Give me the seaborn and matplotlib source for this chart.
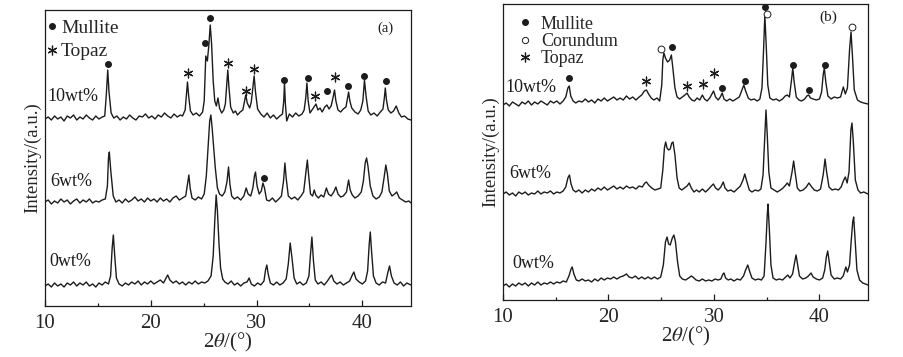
import numpy as np
import pandas as pd
import matplotlib
matplotlib.use("Agg")
import matplotlib.pyplot as plt
from matplotlib.lines import Line2D
import seaborn as sns

# ---------------- data (2theta, intensity a.u.) ----------------
a_10wt = [(10.0,187),(10.3,189),(10.6,186),(10.9,190),(11.2,187),(11.5,189),(11.8,185),(12.1,190),(12.4,188),(12.7,191),
 (13.0,186),(13.3,189),(13.6,187),(13.9,191),(14.2,188),(14.5,186),(14.8,190),(15.1,187),(15.4,189),(15.65,190),
 (15.8,212),(15.93,236),(16.05,214),(16.25,193),(16.5,188),(16.8,190),(17.1,186),(17.4,189),(17.7,187),(18.0,191),
 (18.3,188),(18.6,186),(18.9,190),(19.2,189),(19.5,192),(19.8,188),(20.1,190),(20.4,187),(20.7,191),(21.0,189),
 (21.3,193),(21.6,190),(21.9,188),(22.2,192),(22.5,189),(22.8,191),(23.0,190),(23.25,196),(23.38,212),(23.47,224),
 (23.58,210),(23.75,195),(24.0,191),(24.3,193),(24.6,190),(24.9,194),(25.05,205),(25.2,250),(25.35,245),(25.5,262),
 (25.62,281),(25.75,262),(25.9,225),(26.05,205),(26.2,200),(26.35,208),(26.5,198),(26.7,193),(26.9,196),(27.05,202),
 (27.18,222),(27.28,236),(27.38,220),(27.55,199),(27.8,193),(28.0,195),(28.2,191),(28.45,194),(28.7,196),(28.85,204),
 (28.98,211),(29.12,203),(29.35,198),(29.5,204),(29.65,218),(29.77,230),(29.9,214),(30.1,197),(30.4,192),(30.7,189),
 (31.0,193),(31.3,188),(31.6,191),(31.9,187),(32.2,190),(32.45,192),(32.57,205),(32.64,223),(32.72,203),(32.85,185),
 (33.1,192),(33.4,189),(33.7,193),(34.0,190),(34.3,192),(34.5,196),(34.65,208),(34.76,223),(34.88,205),(35.05,193),
 (35.3,197),(35.48,200),(35.62,202),(35.8,196),(36.0,198),(36.2,194),(36.45,199),(36.65,201),(36.85,197),(37.05,200),
 (37.22,208),(37.37,216),(37.5,205),(37.7,196),(37.95,194),(38.2,197),(38.45,199),(38.6,208),(38.7,214),(38.82,205),
 (39.0,198),(39.3,194),(39.6,192),(39.85,196),(40.05,205),(40.2,226),(40.35,210),(40.55,195),(40.8,191),(41.1,193),
 (41.4,190),(41.7,194),(41.95,197),(42.08,208),(42.17,218),(42.28,206),(42.45,196),(42.7,193),(42.95,195),(43.2,200),
 (43.45,193),(43.7,189),(44.0,190),(44.3,187),(44.6,186)]

a_6wt = [(10.0,104),(10.3,106),(10.6,102),(10.9,105),(11.2,103),(11.5,107),(11.8,104),(12.1,106),(12.4,102),(12.7,105),
 (13.0,107),(13.3,103),(13.6,106),(13.9,104),(14.2,107),(14.5,103),(14.8,105),(15.1,104),(15.4,106),(15.7,107),
 (15.9,120),(16.0,148),(16.08,154),(16.22,135),(16.45,110),(16.7,104),(17.0,106),(17.3,103),(17.6,107),(17.9,104),
 (18.2,106),(18.5,109),(18.8,105),(19.1,107),(19.4,104),(19.7,108),(20.0,105),(20.3,107),(20.6,104),(20.9,108),
 (21.2,105),(21.5,107),(21.8,104),(22.1,108),(22.4,110),(22.7,106),(23.0,108),(23.3,110),(23.47,122),(23.6,131),
 (23.72,118),(23.9,108),(24.2,106),(24.5,109),(24.8,107),(25.05,112),(25.25,130),(25.42,160),(25.57,185),(25.68,191),
 (25.8,178),(25.95,158),(26.1,138),(26.3,118),(26.5,112),(26.75,110),(27.0,114),(27.2,124),(27.35,139),(27.48,122),
 (27.65,110),(27.9,107),(28.2,109),(28.5,106),(28.8,110),(29.02,118),(29.2,112),(29.45,110),(29.65,118),(29.8,130),
 (29.9,134),(30.05,120),(30.25,112),(30.45,115),(30.6,123),(30.75,118),(30.95,106),(31.2,105),(31.5,108),(31.8,104),
 (32.1,107),(32.35,110),(32.55,125),(32.68,143),(32.8,128),(33.0,110),(33.3,107),(33.6,109),(33.9,106),(34.2,110),
 (34.45,114),(34.68,135),(34.8,146),(34.93,130),(35.1,112),(35.3,110),(35.45,116),(35.6,111),(35.85,108),(36.1,111),
 (36.35,109),(36.6,118),(36.8,112),(37.05,110),(37.3,114),(37.5,119),(37.7,112),(37.95,109),(38.2,110),(38.5,114),
 (38.7,126),(38.85,116),(39.05,111),(39.3,108),(39.6,110),(39.9,114),(40.1,125),(40.27,143),(40.4,148),(40.53,140),
 (40.75,120),(41.0,110),(41.3,107),(41.6,109),(41.85,114),(42.05,128),(42.22,141),(42.37,132),(42.55,115),(42.8,110),
 (43.05,112),(43.25,114),(43.5,108),(43.8,106),(44.1,104),(44.4,105),(44.6,103)]

a_0wt = [(10.0,20),(10.3,22),(10.6,19),(10.9,23),(11.2,20),(11.5,22),(11.8,19),(12.1,23),(12.4,21),(12.7,24),
 (13.0,20),(13.3,23),(13.6,21),(13.9,24),(14.2,20),(14.5,22),(14.8,19),(15.1,23),(15.4,21),(15.7,24),
 (16.0,22),(16.2,30),(16.35,58),(16.46,71),(16.58,52),(16.75,28),(17.0,22),(17.3,20),(17.6,23),(17.9,21),
 (18.2,24),(18.5,22),(18.8,25),(19.1,21),(19.4,24),(19.7,22),(20.0,25),(20.3,22),(20.6,24),(20.9,26),
 (21.2,23),(21.45,28),(21.6,31),(21.8,26),(22.1,23),(22.4,25),(22.7,22),(23.0,24),(23.3,21),(23.6,24),
 (23.9,22),(24.2,25),(24.5,22),(24.8,24),(25.1,23),(25.4,25),(25.7,30),(25.9,50),(26.05,85),(26.18,111),
 (26.3,95),(26.45,62),(26.6,38),(26.8,27),(27.0,24),(27.3,22),(27.6,25),(27.9,21),(28.2,23),(28.5,20),
 (28.8,23),(29.1,24),(29.3,28),(29.5,22),(29.8,20),(30.1,23),(30.4,21),(30.7,25),(30.85,36),(30.97,41),
 (31.1,32),(31.3,23),(31.6,21),(31.9,24),(32.2,21),(32.5,23),(32.8,27),(33.0,42),(33.18,63),(33.35,48),
 (33.55,28),(33.8,22),(34.1,24),(34.4,21),(34.7,23),(34.95,30),(35.1,52),(35.23,69),(35.38,45),(35.55,26),
 (35.8,22),(36.1,24),(36.4,21),(36.7,25),(36.95,29),(37.1,31),(37.3,25),(37.6,22),(37.9,24),(38.2,21),
 (38.5,23),(38.8,25),(39.05,31),(39.2,34),(39.4,27),(39.7,24),(40.0,22),(40.3,25),(40.5,35),(40.65,62),
 (40.75,74),(40.87,55),(41.05,30),(41.3,23),(41.6,21),(41.9,24),(42.2,23),(42.4,33),(42.57,40),(42.75,30),
 (43.0,23),(43.3,21),(43.6,24),(43.9,20),(44.2,23),(44.6,21)]

b_10wt = [(10.0,195),(10.3,197),(10.6,194),(10.9,198),(11.2,196),(11.5,194),(11.8,198),(12.1,196),(12.4,199),(12.7,195),
 (13.0,198),(13.3,196),(13.6,199),(13.9,197),(14.2,195),(14.5,199),(14.8,197),(15.1,199),(15.4,196),(15.7,199),
 (15.95,203),(16.15,212),(16.28,214),(16.42,204),(16.65,199),(16.9,197),(17.2,199),(17.5,198),(17.8,201),(18.1,198),
 (18.4,200),(18.7,197),(19.0,201),(19.3,199),(19.6,202),(19.9,199),(20.2,201),(20.5,203),(20.8,200),(21.1,202),
 (21.4,200),(21.7,204),(22.0,201),(22.3,203),(22.6,200),(22.9,203),(23.15,205),(23.4,209),(23.6,210),(23.8,206),
 (24.05,202),(24.3,200),(24.6,202),(24.85,199),(25.05,215),(25.15,240),(25.25,247),(25.4,242),(25.6,238),(25.8,240),
 (25.96,245),(26.1,232),(26.3,212),(26.5,203),(26.75,201),(27.0,203),(27.25,205),(27.44,207),(27.65,203),(27.9,200),
 (28.15,199),(28.4,202),(28.65,200),(28.9,205),(29.1,201),(29.35,199),(29.6,202),(29.8,206),(29.96,209),(30.15,203),
 (30.4,200),(30.6,203),(30.78,207),(30.95,201),(31.2,199),(31.5,201),(31.8,199),(32.1,201),(32.4,203),(32.65,210),
 (32.83,215),(33.0,209),(33.25,202),(33.5,200),(33.8,201),(34.1,199),(34.35,201),(34.55,212),(34.7,250),(34.82,285),
 (34.95,255),(35.1,215),(35.3,202),(35.6,200),(35.9,201),(36.2,199),(36.5,201),(36.75,204),(36.95,205),(37.15,203),
 (37.35,220),(37.47,232),(37.6,218),(37.8,203),(38.05,200),(38.3,199),(38.6,201),(38.8,204),(38.98,205),(39.15,202),
 (39.4,201),(39.7,200),(40.0,201),(40.2,208),(40.35,225),(40.46,232),(40.6,218),(40.8,204),(41.1,201),(41.4,203),
 (41.7,202),(42.0,203),(42.15,209),(42.26,213),(42.45,206),(42.65,212),(42.85,250),(42.99,268),(43.12,245),(43.3,210),
 (43.6,200),(43.9,198),(44.2,197),(44.6,196)]

b_6wt = [(10.0,106),(10.3,108),(10.6,105),(10.9,107),(11.2,104),(11.5,108),(11.8,106),(12.1,108),(12.4,105),(12.7,107),
 (13.0,106),(13.3,109),(13.6,106),(13.9,108),(14.2,107),(14.5,109),(14.8,106),(15.1,108),(15.4,107),(15.7,109),
 (15.95,113),(16.15,122),(16.3,125),(16.45,116),(16.65,110),(16.9,108),(17.2,110),(17.5,107),(17.8,110),(18.1,108),
 (18.4,111),(18.7,109),(19.0,112),(19.3,110),(19.6,113),(19.9,110),(20.2,112),(20.5,114),(20.8,111),(21.1,113),
 (21.4,111),(21.7,114),(22.0,112),(22.3,113),(22.6,111),(22.9,114),(23.2,113),(23.45,117),(23.6,118),(23.8,115),
 (24.1,112),(24.4,110),(24.7,111),(24.95,112),(25.15,130),(25.3,152),(25.42,158),(25.55,152),(25.7,150),(25.85,151),
 (26.0,157),(26.12,158),(26.3,145),(26.5,122),(26.7,112),(26.95,110),(27.2,112),(27.45,114),(27.65,117),(27.85,112),
 (28.1,108),(28.35,110),(28.6,108),(28.9,111),(29.2,108),(29.5,111),(29.75,114),(29.95,116),(30.15,112),(30.4,110),
 (30.65,113),(30.88,118),(31.05,112),(31.3,109),(31.6,110),(31.9,108),(32.2,111),(32.5,114),(32.75,120),(32.92,126),
 (33.1,119),(33.35,110),(33.6,108),(33.9,110),(34.2,109),(34.45,111),(34.65,125),(34.8,160),(34.93,190),(35.05,165),
 (35.2,128),(35.4,112),(35.7,110),(36.0,108),(36.3,110),(36.55,112),(36.8,115),(36.95,117),(37.15,114),(37.4,128),
 (37.55,139),(37.7,127),(37.9,112),(38.15,109),(38.45,110),(38.75,113),(39.0,117),(39.2,114),(39.5,110),(39.8,109),
 (40.1,111),(40.35,125),(40.53,141),(40.68,128),(40.9,113),(41.2,110),(41.5,111),(41.8,110),(42.05,113),(42.3,120),
 (42.45,123),(42.62,117),(42.8,128),(42.98,170),(43.08,177),(43.2,160),(43.4,120),(43.65,110),(43.9,107),(44.2,108),
 (44.6,106)]

b_0wt = [(10.0,14),(10.3,16),(10.6,13),(10.9,16),(11.2,14),(11.5,17),(11.8,15),(12.1,17),(12.4,14),(12.7,17),
 (13.0,15),(13.3,18),(13.6,15),(13.9,17),(14.2,16),(14.5,18),(14.8,16),(15.1,18),(15.4,17),(15.7,19),
 (16.0,18),(16.25,24),(16.45,31),(16.56,33),(16.72,26),(16.95,20),(17.2,19),(17.5,21),(17.8,19),(18.1,20),
 (18.4,18),(18.7,21),(19.0,19),(19.3,22),(19.6,20),(19.9,22),(20.2,21),(20.5,23),(20.8,21),(21.1,23),
 (21.4,24),(21.7,26),(21.95,23),(22.25,22),(22.55,24),(22.85,21),(23.15,23),(23.45,21),(23.75,23),(24.05,21),
 (24.35,23),(24.65,21),(24.95,23),(25.2,35),(25.4,58),(25.55,63),(25.7,56),(25.85,55),(26.05,62),(26.2,65),
 (26.35,58),(26.55,38),(26.75,24),(27.0,21),(27.3,20),(27.6,22),(27.85,24),(28.0,23),(28.3,20),(28.6,19),
 (28.9,21),(29.2,19),(29.5,20),(29.8,19),(30.1,21),(30.4,20),(30.65,21),(30.85,26),(30.95,27),(31.1,22),
 (31.35,20),(31.6,21),(31.9,19),(32.2,21),(32.5,20),(32.8,24),(33.0,30),(33.2,35),(33.4,28),(33.6,22),
 (33.9,20),(34.2,21),(34.5,20),(34.75,24),(34.92,55),(35.05,85),(35.12,96),(35.25,70),(35.4,35),(35.6,22),
 (35.9,20),(36.2,21),(36.5,20),(36.8,23),(37.0,25),(37.2,22),(37.45,26),(37.65,38),(37.78,45),(37.92,36),
 (38.1,24),(38.4,21),(38.7,22),(38.95,24),(39.2,27),(39.4,23),(39.7,21),(40.0,20),(40.3,22),(40.5,30),
 (40.65,43),(40.78,49),(40.9,40),(41.1,25),(41.4,21),(41.7,22),(42.0,21),(42.25,24),(42.5,33),(42.65,28),
 (42.85,35),(43.0,58),(43.15,78),(43.24,83),(43.35,65),(43.55,30),(43.8,20),(44.1,17),(44.35,16),(44.6,15)]

# phase markers (2theta, height)
a_mullite_x = [15.93, 25.1, 25.6, 32.64, 34.85, 36.65, 38.6, 40.18, 42.23, 30.72]
a_mullite_y = [242, 263, 288, 226, 228, 215, 220, 230, 225, 128]
a_topaz_x = [23.56, 27.28, 28.99, 29.8, 35.48, 37.37]
a_topaz_y = [233, 243, 215, 237, 210, 229]

b_mullite_x = [16.28, 26.02, 30.78, 32.9, 34.79, 37.47, 38.98, 40.53]
b_mullite_y = [222, 253, 212, 219, 293, 235, 210, 235]
b_corundum_x = [24.95, 34.98, 43.05]
b_corundum_y = [251, 286, 273]
b_topaz_x = [23.59, 27.47, 28.95, 29.96]
b_topaz_y = [219, 214, 216, 227]

sample_labels = ["10wt%", "6wt%", "0wt%"]
a_label_x = [10.2, 10.45, 10.45]
a_label_y = [209, 124, 44]
b_label_x = [10.2, 10.55, 10.85]
b_label_y = [213, 127, 36]

x_ticks = [10, 20, 30, 40]
x_minor = [15, 25, 35]

# ---------------- styling ----------------
sns.set_theme(style="ticks")
plt.rcParams['font.family'] = ['Liberation Serif', 'DejaVu Serif']
plt.rcParams['mathtext.fontset'] = 'stix'

INK = '#1c1c1c'
fig = plt.figure(figsize=(9.04, 3.57), dpi=100)
fig.patch.set_facecolor('white')
axA = fig.add_axes([45/904, 1-306/357, 366/904, 296/357])
axB = fig.add_axes([503/904, 1-300/357, 365/904, 296/357])

ASTER = (6, 2, 0)

def draw(ax, traces, labels, lx, ly):
    for pts in traces:
        df = pd.DataFrame(pts, columns=['two_theta', 'intensity'])
        sns.lineplot(data=df, x='two_theta', y='intensity', ax=ax, color=INK,
                     lw=1.0, estimator=None, sort=False)
    for t, x, y in zip(labels, lx, ly):
        ax.text(x, y, t, fontsize=13, color=INK, ha='left', va='center')
    ax.set_xlim(10, 44.6)
    ax.set_ylim(0, 296)
    ax.set_yticks([])
    ax.set_xticks(x_ticks)
    ax.set_xticks(x_minor, minor=True)
    ax.set_xticklabels([str(t) for t in x_ticks], fontsize=15)
    ax.tick_params(axis='x', which='major', direction='in', length=4, width=0.9, color=INK, pad=6)
    ax.tick_params(axis='x', which='minor', direction='in', length=2.5, width=0.9, color=INK)
    ax.tick_params(axis='y', left=False)
    for s in ax.spines.values():
        s.set_visible(True)
        s.set_color(INK)
        s.set_linewidth(0.9)
    ax.set_xlabel(r'2$\theta$/(°)', fontsize=15, labelpad=-2)
    ax.set_ylabel('Intensity/(a.u.)', fontsize=13.5, labelpad=3)
    ax.set_facecolor('white')

draw(axA, [a_10wt, a_6wt, a_0wt], sample_labels, a_label_x, a_label_y)
draw(axB, [b_10wt, b_6wt, b_0wt], sample_labels, b_label_x, b_label_y)

# phase markers
axA.scatter(a_mullite_x, a_mullite_y, s=16, marker='o', color=INK, zorder=5)
axA.scatter(a_topaz_x, a_topaz_y, s=40, marker=ASTER, color=INK, linewidths=0.9, zorder=5)
axB.scatter(b_mullite_x, b_mullite_y, s=16, marker='o', color=INK, zorder=5)
axB.scatter(b_corundum_x, b_corundum_y, s=24, marker='o', facecolors='white',
            edgecolors=INK, linewidths=0.7, zorder=5)
axB.scatter(b_topaz_x, b_topaz_y, s=40, marker=ASTER, color=INK, linewidths=0.9, zorder=5)

# legends
hA = [Line2D([], [], ls='', marker='o', ms=4, color=INK),
      Line2D([], [], ls='', marker=ASTER, ms=7, color=INK, mew=0.9)]
axA.legend(hA, ['Mullite', 'Topaz'], loc='upper left', bbox_to_anchor=(-0.015, 0.995),
           frameon=False, fontsize=14, handlelength=0.5, handletextpad=0.2,
           labelspacing=0.3, borderpad=0.2, borderaxespad=0.2)
hB = [Line2D([], [], ls='', marker='o', ms=4, color=INK),
      Line2D([], [], ls='', marker='o', ms=4.5, mfc='white', mec=INK, mew=0.7),
      Line2D([], [], ls='', marker=ASTER, ms=7, color=INK, mew=0.9)]
axB.legend(hB, ['Mullite', 'Corundum', 'Topaz'], loc='upper left', bbox_to_anchor=(0.02, 0.985),
           frameon=False, fontsize=13, handlelength=0.8, handletextpad=0.5,
           labelspacing=0.02, borderpad=0.2, borderaxespad=0.2)

axA.text(0.93, 0.94, '(a)', transform=axA.transAxes, fontsize=10.5, ha='center', va='center', color=INK)
axB.text(0.89, 0.955, '(b)', transform=axB.transAxes, fontsize=11, ha='center', va='center', color=INK)

fig.savefig('out.png', dpi=100, facecolor='white')
